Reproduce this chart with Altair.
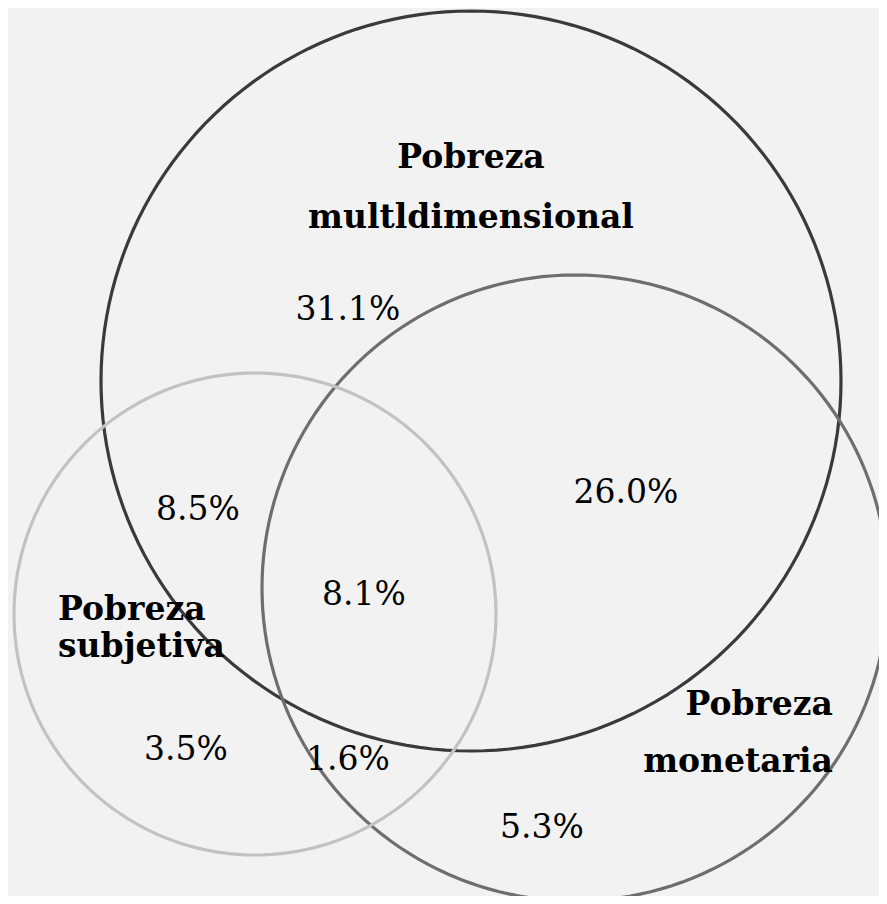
import altair as alt
import pandas as pd

# Venn circles (picture units: x to the right, y downward)
circle_names = ["multidimensional", "monetaria", "subjetiva"]
circle_cx = [471, 575, 255]
circle_cy = [381, 588, 614]
circle_r = [370, 313, 241]
circle_colors = ["#3a3a3a", "#6e6e6e", "#c2c2c2"]

# Percentages per region
pct_labels = ["31.1%", "26.0%", "8.5%", "8.1%", "3.5%", "1.6%", "5.3%"]
pct_x = [348, 626, 198, 364, 186, 348, 542]
pct_y = [320, 503, 520, 605, 760, 770, 838]

# Set names
set_lines = ["Pobreza", "multldimensional", "Pobreza", "subjetiva", "Pobreza", "monetaria"]
set_x = [471, 471, 58, 58, 833, 833]
set_y = [168, 228, 620, 657, 715, 772]
set_align = ["center", "center", "left", "left", "right", "right"]

angles = list(range(0, 361, 2))

circles = pd.DataFrame({
    "name": circle_names,
    "cx": circle_cx,
    "cy": circle_cy,
    "r": circle_r,
})
circles["angle"] = [angles] * len(circles)

pcts = pd.DataFrame({"label": pct_labels, "x": pct_x, "y": pct_y})
sets = pd.DataFrame({"label": set_lines, "x": set_x, "y": set_y, "align": set_align})

xs = alt.Scale(domain=[8, 879], nice=False, zero=False)
ys = alt.Scale(domain=[8, 896], nice=False, zero=False, reverse=True)

lines = alt.Chart(circles).transform_flatten(["angle"]).transform_calculate(
    x="datum.cx + datum.r * cos(datum.angle * PI / 180)",
    y="datum.cy + datum.r * sin(datum.angle * PI / 180)",
).mark_line(strokeWidth=3.2, clip=True).encode(
    x=alt.X("x:Q", scale=xs, axis=None),
    y=alt.Y("y:Q", scale=ys, axis=None),
    color=alt.Color("name:N", scale=alt.Scale(domain=circle_names, range=circle_colors), legend=None),
    detail="name:N",
    order="angle:Q",
)

layers = []
for nm in circle_names:
    layers.append(lines.transform_filter(alt.datum.name == nm))

pct_text = alt.Chart(pcts).mark_text(
    font="DejaVu Serif", fontSize=33, baseline="alphabetic", align="center", color="#000000"
).encode(
    x=alt.X("x:Q", scale=xs, axis=None),
    y=alt.Y("y:Q", scale=ys, axis=None),
    text="label:N",
)

set_layers = []
for a in ["center", "left", "right"]:
    set_layers.append(
        alt.Chart(sets).transform_filter(alt.datum.align == a).mark_text(
            font="DejaVu Serif", fontSize=33, fontWeight="bold", baseline="alphabetic", align=a, color="#000000"
        ).encode(
            x=alt.X("x:Q", scale=xs, axis=None),
            y=alt.Y("y:Q", scale=ys, axis=None),
            text="label:N",
        )
    )

chart = alt.layer(*layers, pct_text, *set_layers).properties(
    width=871, height=888, background="#f2f2f2", padding=0,
    autosize=alt.AutoSizeParams(type="none"),
).configure_view(stroke=None)

chart.save("out.html", embed_options={"renderer": "svg", "actions": False})
